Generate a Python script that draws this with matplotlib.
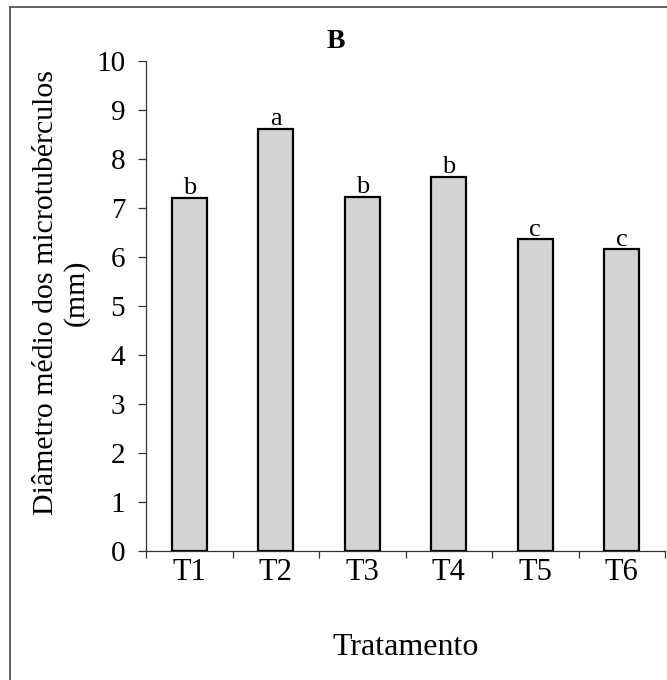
import matplotlib
matplotlib.use("Agg")
import matplotlib.pyplot as plt
from matplotlib.lines import Line2D
import numpy as np

# Mean microtuber diameter per treatment, with significance letters
tratamentos = ["T1", "T2", "T3", "T4", "T5", "T6"]
diametro = [7.21, 8.62, 7.23, 7.64, 6.36, 6.16]
letras = ["b", "a", "b", "b", "c", "c"]
y_ticks = [0, 1, 2, 3, 4, 5, 6, 7, 8, 9, 10]

plt.rcParams["font.family"] = ["Liberation Serif", "DejaVu Serif"]

W, H = 667, 680
fig = plt.figure(figsize=(W / 100, H / 100), dpi=100)
ax = fig.add_axes([146 / W, 1 - 551 / H, (665 - 146) / W, (551 - 61) / H])

x = np.arange(len(tratamentos))
ax.bar(x, diametro, width=0.41, color="#d3d3d6", edgecolor="black", linewidth=1.6, zorder=2)

for xi, v, l in zip(x, diametro, letras):
    ax.annotate(l, (xi, v), xytext=(0, 2.5), textcoords="offset points",
                ha="center", va="baseline", fontsize=19, zorder=3)

ax.set_xlim(-0.5, len(tratamentos) - 0.5)
ax.set_ylim(0, 10)
ax.set_yticks(y_ticks)
ax.set_xticks(x)
ax.set_xticklabels(tratamentos)
ax.set_xticks(np.arange(-0.5, len(tratamentos), 1.0), minor=True)

ax.tick_params(axis="y", direction="out", length=6, width=0.9, pad=9, labelsize=21, color="#333333")
ax.tick_params(axis="x", which="major", length=0, pad=5, labelsize=22)
ax.tick_params(axis="x", which="minor", direction="out", length=5, width=0.9, color="#333333")

for side in ("top", "right"):
    ax.spines[side].set_visible(False)
for side in ("left", "bottom"):
    ax.spines[side].set_linewidth(0.9)
    ax.spines[side].set_color("#333333")

ax.set_ylabel("Diâmetro médio dos microtubérculos\n(mm)", fontsize=21.5)
ax.yaxis.set_label_coords(-0.108, 0.527)

fig.text(406 / W, 1 - 655 / H, "Tratamento", ha="center", va="baseline", fontsize=23)
fig.text(336 / W, 1 - 48 / H, "B", ha="center", va="baseline", fontsize=20, fontweight="bold")

# outer frame around the panel
fig.add_artist(Line2D([10 / W, 10 / W], [0, 1 - 7 / H], transform=fig.transFigure,
                      color="#555555", linewidth=1.3))
fig.add_artist(Line2D([10 / W, 1], [1 - 7 / H, 1 - 7 / H], transform=fig.transFigure,
                      color="#555555", linewidth=1.3))

fig.savefig("out.png", dpi=100)
